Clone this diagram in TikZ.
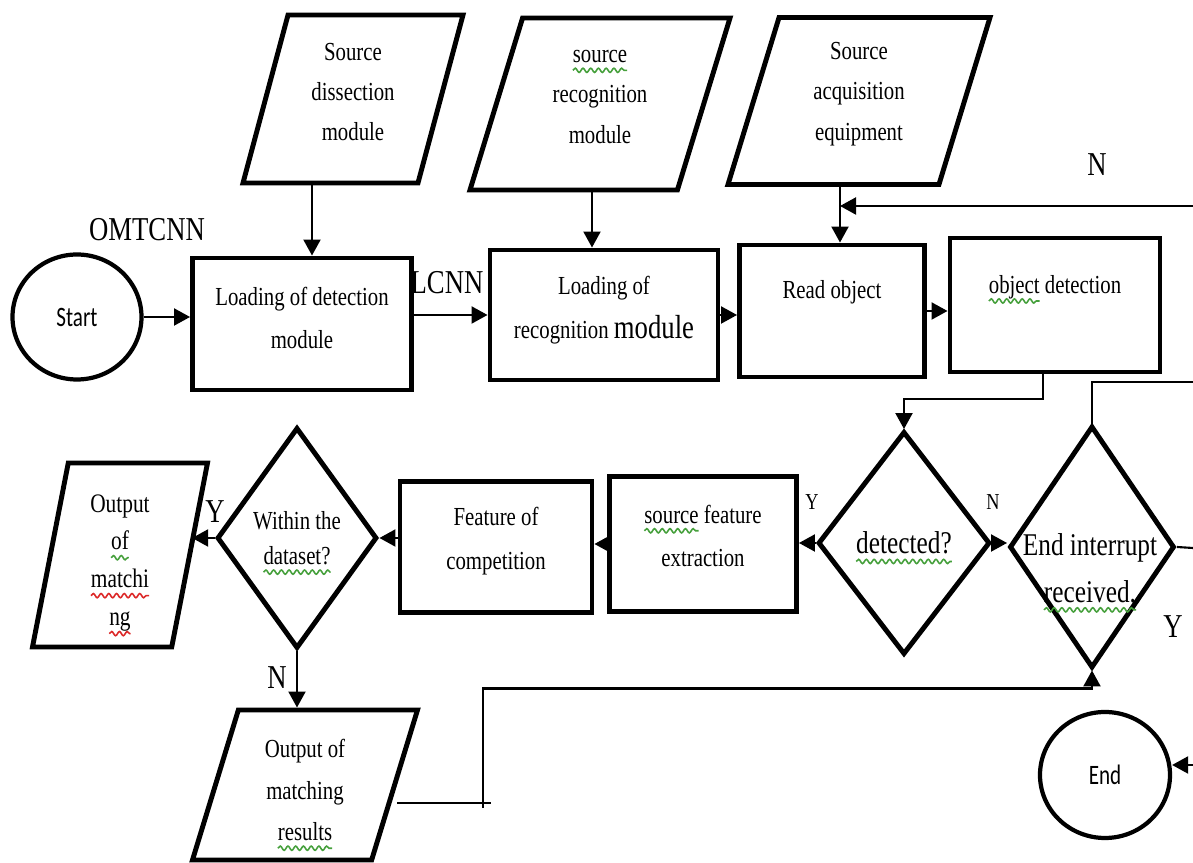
\documentclass[tikz,border=0pt]{standalone}
\usepackage{fontspec}
\setmainfont{Liberation Serif}[FakeStretch=0.8]
\newfontfamily\capfont{Carlito}[FakeStretch=0.75]
\usetikzlibrary{shapes.geometric,arrows.meta,decorations.pathmorphing}

\definecolor{sqgreen}{RGB}{70,160,60}
\definecolor{sqred}{RGB}{220,40,40}
\newlength\sqlen
\newcommand\squig[2]{\settowidth\sqlen{#2}%
  \tikz[overlay,baseline=0pt,x=1pt,y=1pt]\draw[#1, line width=0.45pt, decorate,
    decoration={snake, amplitude=0.6pt, segment length=2.2pt}] (0,-2.2) -- (\sqlen,-2.2);#2}
\newcommand\gsq[1]{\squig{sqgreen}{#1}}
\newcommand\rsq[1]{\squig{sqred}{#1}}
% text block of fixed height (the kern lifts the lines a little)
\newcommand\blocktext[3][0pt]{\vbox to #2{\vss\let\\\cr\halign{\hfil##\hfil\cr#3\crcr}\vss\kern#1}}

\tikzset{
  procbox/.style={draw, rectangle, line width=1.4pt, inner sep=0pt,
    font=\fontsize{7.4}{12.5}\selectfont},
  iobox/.style={draw, trapezium, trapezium left angle=#1, trapezium right angle=180-#1,
    trapezium stretches body, line width=1.4pt, inner sep=0pt,
    font=\fontsize{7.4}{11.5}\selectfont},
  decide/.style={draw, diamond, line width=1.4pt, inner sep=0pt, align=center},
  term/.style={draw, ellipse, line width=1.2pt, inner sep=0pt,
    font=\capfont\fontsize{8}{10}\selectfont},
  txt/.style={font=\fontsize{7.4}{12.5}\selectfont, align=center, inner sep=0pt},
  lbl/.style={font=\fontsize{9.5}{11}\selectfont, inner sep=0pt},
  slbl/.style={font=\fontsize{6.5}{8}\selectfont, inner sep=0pt},
  wire/.style={line width=0.6pt},
  arr/.style={wire, -{Triangle[length=1.6mm,width=1.7mm]}}
}

\begin{document}
\begin{tikzpicture}[x=0.1mm,y=-0.1mm]

    \path[fill=white] (0,0) rectangle (1193,863);
    \useasboundingbox (0,0) rectangle (1193,863);

    % sources on top
    \node[iobox=75, minimum width=22mm] (srcdis) at (353,99)
      {\blocktext[1.4mm]{16.8mm}{Source\\dissection\\module}};
    \node[iobox=73, minimum width=26mm] (srcrec) at (600,104)
      {\blocktext[1.4mm]{17.2mm}{\gsq{source}\\recognition\\module}};
    \node[iobox=73, minimum width=26.2mm] (srcacq) at (859,101)
      {\blocktext[1.4mm]{16.7mm}{Source\\acquisition\\equipment}};

    % first row
    \node[term, minimum width=12.9mm, minimum height=12.5mm] (start) at (77,317) {Start};
    \node[procbox, minimum width=21.9mm] (load1) at (302,324)
      {\blocktext[1.2mm]{13.2mm}{Loading of detection\\module}};
    \node[procbox, minimum width=22.8mm] (load2) at (604,315)
      {\blocktext[1mm]{13mm}{Loading of\\recognition {\fontsize{9.5}{12.5}\selectfont module}}};
    \node[procbox, minimum width=18.5mm] (readobj) at (832,311)
      {\blocktext[3.8mm]{13.2mm}{Read object}};
    \node[procbox, minimum width=21mm] (objdet) at (1055,305)
      {\blocktext[3.6mm]{13.4mm}{\gsq{object} detection}};

    % second row
    \node[decide, minimum width=17.2mm, minimum height=22.3mm,
      font=\fontsize{9}{11}\selectfont] (det) at (904,543) {\gsq{detected?}};
    \node[decide, minimum width=16.5mm, minimum height=24.2mm] (eint) at (1092,547) {};
    \node[txt, font=\fontsize{9}{13.3}\selectfont] (einttxt) at (1090,568)
      {End interrupt\\\gsq{received.}};
    \node[procbox, minimum width=18.7mm] (feat) at (703,544)
      {\blocktext[1.6mm]{13.5mm}{\gsq{source} feature\\extraction}};
    \node[procbox, minimum width=19.2mm] (comp) at (496,547)
      {\blocktext[1.2mm]{13.1mm}{Feature of\\competition}};
    \node[decide, minimum width=16mm, minimum height=22.1mm,
      font=\fontsize{7.4}{10}\selectfont] (ds) at (297,538) {Within the\\\gsq{dataset?}};
    \node[iobox=79, minimum width=17.5mm,
      font=\fontsize{7.6}{10.8}\selectfont] (outm) at (120,555)
      {\blocktext[-1.6mm]{18.4mm}{Output\\\gsq{of}\\\rsq{matchi}\\\rsq{ng}}};

    % bottom
    \node[iobox=73, minimum width=22.5mm,
      font=\fontsize{7.4}{11.8}\selectfont] (outr) at (305,785)
      {\blocktext[-1mm]{15mm}{Output of\\matching\\\gsq{results}}};
    \node[term, minimum width=13mm, minimum height=12.6mm] (stop) at (1105,775) {End};

    % loose ends at the right border
    \coordinate (nback) at (1193,206);
    \coordinate (eback) at (1193,382);
    \coordinate (eout) at (1193,548);
    \coordinate (endin) at (1193,765);
    \coordinate (jog) at (483,803);

    % labels
    \node[lbl] (omtcnn) at (147,230) {OMTCNN};
    \node[lbl] (lcnn) at (447,283) {LCNN};
    \node[lbl] (nloop) at (1097,165) {N};
    \node[slbl] (ydet) at (812,502) {Y};
    \node[slbl] (ndet) at (993,502) {N};
    \node[lbl] (yend) at (1173,627) {Y};
    \node[lbl] (yds) at (215,512) {Y};
    \node[lbl] (nds) at (277,678) {N};

    % connectors
    \draw[arr] ([xshift=1mm]load1.north |- srcdis.south) -- ([xshift=1mm]load1.north);
    \draw[arr] ([xshift=-1.2mm]load2.north |- srcrec.south) -- ([xshift=-1.2mm]load2.north);
    \draw[arr] ([xshift=0.8mm]readobj.north |- srcacq.south) -- ([xshift=0.8mm]readobj.north);
    \draw[arr] (nback) -- ([xshift=0.8mm]readobj.north |- nback);

    \draw[arr] (start.east) -- (start.east -| load1.west);
    \draw[arr] (load2.west -| load1.east) -- (load2.west);
    \foreach \a/\b in {load2/readobj, readobj/objdet}
      \draw[arr] (\a.east) -- (\a.east -| \b.west);

    \draw[arr] ([xshift=-1.2mm]objdet.south) |- ([yshift=3mm]det.north) -- (det.north);
    \draw[wire] (eint.north) |- (eback);
    \draw[arr] (det.east) -- (det.east -| eint.west);
    \draw[wire] (eint.east) -- (eout);

    \draw[arr] (det.west) -- (det.west -| feat.east);
    \draw[arr] (feat.west) -- (feat.west -| comp.east);
    \draw[arr] (ds.east -| comp.west) -- (ds.east);
    \draw[arr] (ds.west) -- (ds.west -| outm.east);
    \draw[arr] (ds.south) -- (ds.south |- outr.north);

    \draw[arr] (outr.east |- jog) -- (jog) |- ([yshift=-1.8mm]eint.south) -- (eint.south);
    \draw[wire] (jog) -- ++(8,0) (jog) -- ++(0,5);
    \draw[arr] (endin) -- (endin -| stop.east);

\end{tikzpicture}
\end{document}
